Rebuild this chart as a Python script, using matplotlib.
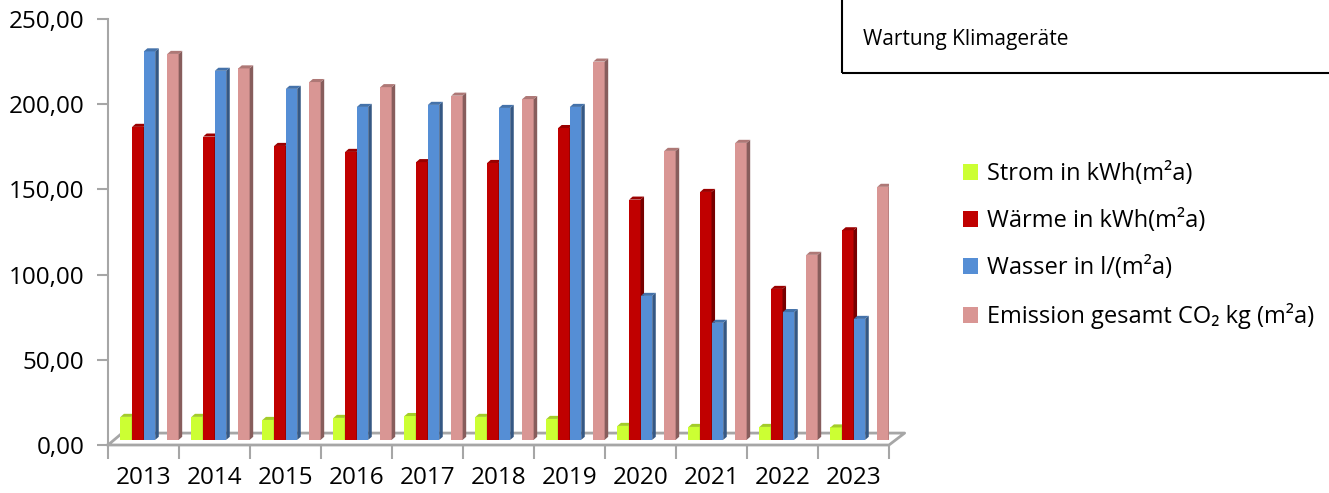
import matplotlib.pyplot as plt
from matplotlib.patches import Polygon, Rectangle
import matplotlib.colors as mc
import numpy as np

years = ["2013", "2014", "2015", "2016", "2017", "2018", "2019", "2020", "2021", "2022", "2023"]
strom = [13.5, 13.5, 11.7, 12.9, 14.0, 13.5, 12.3, 8.2, 7.6, 7.6, 7.3]
waerme = [183.7, 178.0, 172.5, 169.0, 163.0, 162.5, 183.0, 141.0, 145.5, 88.6, 123.0]
wasser = [228.0, 216.6, 206.0, 195.4, 196.6, 194.8, 195.4, 84.5, 68.7, 75.0, 71.0]
emission = [226.5, 218.0, 210.0, 207.0, 202.0, 200.0, 222.0, 169.6, 174.3, 108.6, 148.5]
y_ticks = [0, 50, 100, 150, 200, 250]
y_tick_labels = ["0,00", "50,00", "100,00", "150,00", "200,00", "250,00"]

series = [
    ("Strom in kWh(m²a)", strom, "#CCFF33"),
    ("Wärme in kWh(m²a)", waerme, "#C00000"),
    ("Wasser in l/(m²a)", wasser, "#558ED5"),
    ("Emission gesamt CO₂ kg (m²a)", emission, "#D99694"),
]
offsets = [-0.245, -0.08, 0.085, 0.415]

plt.rcParams['font.family'] = ['Open Sans', 'DejaVu Sans']

W, H = 1329, 493
fig = plt.figure(figsize=(W / 100, H / 100), dpi=100)
ax = fig.add_axes([108 / W, (H - 445) / H, (889 - 108) / W, (445 - 19) / H])

x = np.arange(len(years))
bw = 0.16
base = 3.0      # bars stand a little behind the front edge
dx, dy = 0.05, 1.8   # 3d depth of bar faces


def shade(c, f):
    r, g, b = mc.to_rgb(c)
    return (r * f, g * f, b * f)


handles = []
for (name, vals, col), off in zip(series, offsets):
    xs = x + off
    bars = ax.bar(xs, vals, width=bw, bottom=base, color=col, label=name, zorder=3)
    handles.append(bars)
    for xi, v in zip(xs, vals):
        l, r = xi - bw / 2, xi + bw / 2
        top = base + v
        side = Polygon([(r, base), (r + dx, base + dy), (r + dx, top + dy), (r, top)],
                       closed=True, color=shade(col, 0.62), zorder=3, lw=0)
        cap = Polygon([(l, top), (l + dx, top + dy), (r + dx, top + dy), (r, top)],
                      closed=True, color=shade(col, 0.8), zorder=3, lw=0)
        ax.add_patch(side)
        ax.add_patch(cap)

# floor
gray = "#A6A6A6"
ax.plot([-0.5, 10.5, 10.72, -0.3, -0.5], [0, 0, 7, 7, 0], color=gray, lw=2,
        clip_on=False, zorder=2)

ax.set_xlim(-0.5, 10.5)
ax.set_ylim(0, 250)
for s in ["top", "right", "bottom"]:
    ax.spines[s].set_visible(False)
ax.spines["left"].set_color(gray)
ax.spines["left"].set_linewidth(1.5)

ax.set_yticks(y_ticks)
ax.set_yticklabels(y_tick_labels)
ax.tick_params(axis="y", length=8, width=1.5, color=gray, pad=9, labelsize=17.5)
ax.set_xticks(x)
ax.set_xticklabels(years)
ax.set_xticks(np.arange(-0.5, 11, 1), minor=True)
ax.tick_params(axis="x", which="major", length=0, pad=15, labelsize=17.5)
ax.tick_params(axis="x", which="minor", length=10, width=1.5, color=gray)

fig.legend(handles=handles, loc="upper left", bbox_to_anchor=(963 / W, 1 - 162 / H),
           frameon=False, fontsize=17, handlelength=0.65, handleheight=0.65,
           handletextpad=0.35, labelspacing=0.98, borderpad=0, borderaxespad=0)

# text box
fig.patches.append(Rectangle((842 / W, 1 - 73 / H), 0.5, 0.5, transform=fig.transFigure,
                             fill=False, edgecolor="black", lw=1.5, clip_on=False))
fig.text(863 / W, 1 - 40 / H, "Wartung Klimageräte", fontsize=15, va="center", ha="left")

fig.savefig("out.png", dpi=100)
